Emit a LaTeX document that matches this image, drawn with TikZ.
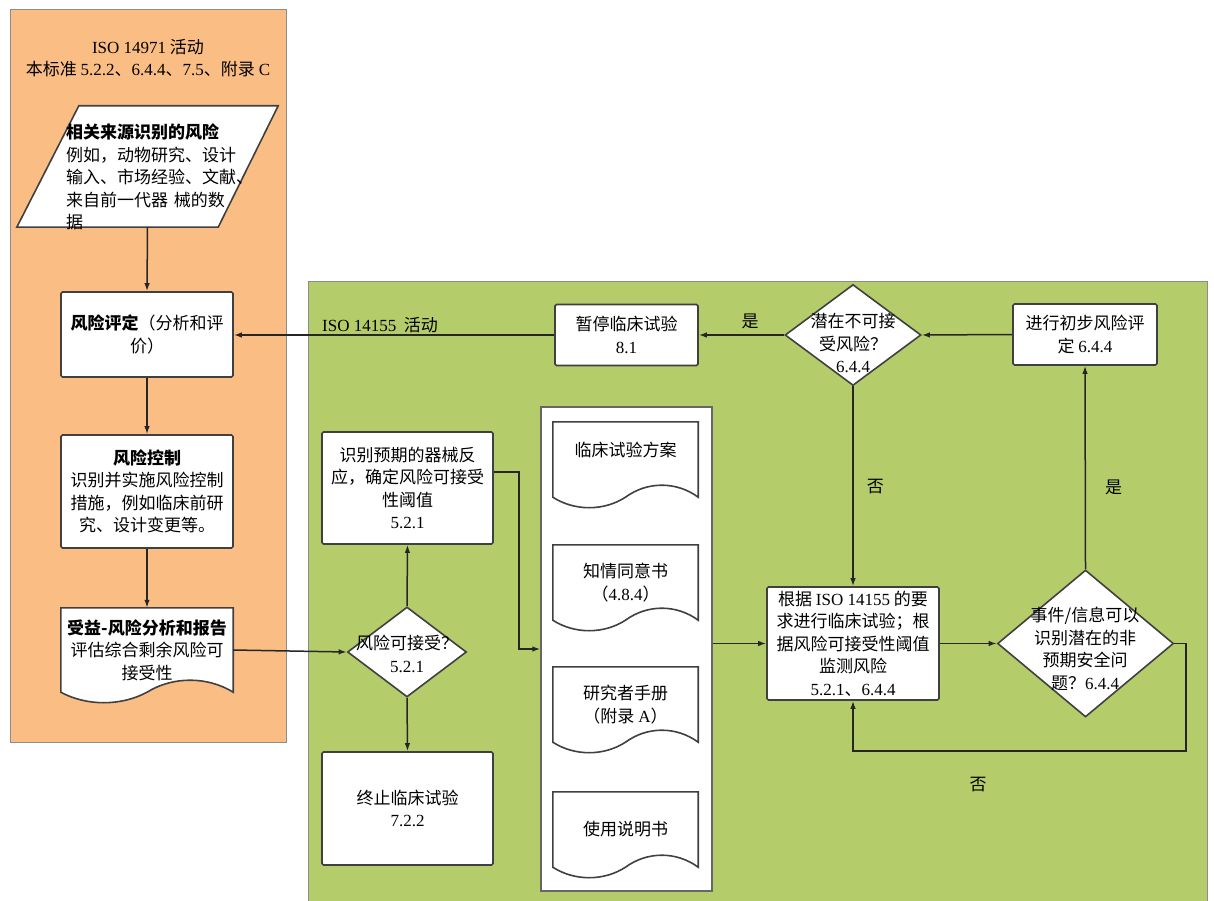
\documentclass[tikz,border=0pt]{standalone}
\usepackage{fontspec}
\setmainfont{Noto Sans CJK SC}
\newfontfamily\lat{Liberation Serif}
\usetikzlibrary{arrows.meta,calc,shapes.geometric}

\definecolor{orangebg}{RGB}{250,190,132}
\definecolor{greenbg}{RGB}{181,204,106}

\pgfdeclarelayer{back}
\pgfdeclarelayer{mid}
\pgfsetlayers{back,mid,main}

\newcommand{\nr}[1]{{\lat #1}}
% wavy-bottom outline behind a document node
\newcommand{\docframe}[2]{%
  \begin{pgfonlayer}{mid}
  \draw[boxline, fill=white] (#1.south west) -- (#1.north west) -- (#1.north east) -- (#1.south east)
    .. controls ($(#1.south east)+(-0.15*#2,-16)$) and ($(#1.south)+(0.15*#2,-16)$) .. (#1.south)
    .. controls ($(#1.south)+(-0.15*#2,14)$) and ($(#1.south west)+(0.15*#2,14)$) .. (#1.south west) -- cycle;
  \end{pgfonlayer}}

\begin{document}
\begin{tikzpicture}[x=1pt, y=-1pt,
    font=\fontsize{17pt}{22.5pt}\selectfont,
    >={Latex[length=8pt,width=5.5pt]},
    boxline/.style={draw=black!75, line width=1.6pt},
    procbox/.style={boxline, fill=white, rounded corners=1.5pt, inner sep=0pt, align=center},
    decision/.style={boxline, fill=white, shape=diamond, inner sep=0pt},
    docbox/.style={inner sep=0pt, align=center},
    flow/.style={->, draw=black!85, line width=1.5pt},
    tag/.style={inner sep=1pt}]

\useasboundingbox (0,0) rectangle (1214,901);

% regions
\begin{pgfonlayer}{back}
  \path[fill=orangebg, draw=black!45, line width=1pt] (10,10) rectangle (286,742);
  \path[fill=greenbg, draw=black!45, line width=1pt] (308,281) rectangle (1207,915);
  \node[draw=black!60, line width=1.2pt, fill=white, minimum width=171pt, minimum height=484pt, inner sep=0pt] (docs) at (626.5,649) {};
\end{pgfonlayer}

% ISO 14971 side
\node[align=center, inner sep=0pt] (head) at (148,58) {\nr{ISO 14971} 活动\\本标准 \nr{5.2.2}、\nr{6.4.4}、\nr{7.5}、附录 \nr{C}};

\node[minimum width=261pt, minimum height=121pt, inner sep=0pt] (src) at (147.5,166.5) {};
\draw[boxline, fill=white] ($(src.north west)+(62,0)$) -- (src.north east) -- ($(src.south east)+(-60,0)$) -- (src.south west) -- cycle;
\node[anchor=west, align=left, text width=190pt, inner sep=0pt] (srctext) at (66,177) {\textbf{相关来源识别的风险}\\例如，动物研究、设计\\输入、市场经验、文献、\\来自前一代器 械的数\\据};

\node[procbox, minimum width=172pt, minimum height=85pt] (assess) at (147,334.5) {\textbf{风险评定}（分析和评\\价）};
\node[procbox, minimum width=172pt, minimum height=113pt] (control) at (147,491.5) {\textbf{风险控制}\\识别并实施风险控制\\措施，例如临床前研\\究、设计变更等。};
\node[docbox, minimum width=172pt, minimum height=84pt] (benefit) at (147,650) {\textbf{受益-风险分析和报告}\\评估综合剩余风险可\\接受性};
\docframe{benefit}{172}

% ISO 14155 side
\node[anchor=west, inner sep=0pt] (trial) at (322,325) {\nr{ISO 14155}\ \ 活动};

\node[procbox, minimum width=143pt, minimum height=61pt] (halt) at (626.5,335) {暂停临床试验\\\nr{8.1}};
\node[decision, minimum width=136pt, minimum height=101pt] (unacc) at (853,335) {};
\node[align=center, inner sep=0pt] (unacctext) at (853,343) {潜在不可接\\受风险？\\\nr{6.4.4}};
\node[procbox, minimum width=144pt, minimum height=61pt] (prelim) at (1085,334.5) {进行初步风险评\\定 \nr{6.4.4}};

\node[procbox, minimum width=171pt, minimum height=112pt] (ident) at (407.5,488) {识别预期的器械反\\应，确定风险可接受\\性阈值\\\nr{5.2.1}};
\node[decision, minimum width=119pt, minimum height=90pt] (accept) at (407,652) {};
\node[align=center, inner sep=0pt] (accepttext) at (407,654) {风险可接受？\\\nr{5.2.1}};
\node[procbox, minimum width=171pt, minimum height=113pt] (stop) at (407.5,808.5) {终止临床试验\\\nr{7.2.2}};

\node[docbox, text depth=20pt, minimum width=145pt, minimum height=75pt] (protocol) at (625.5,459.5) {临床试验方案};
\docframe{protocol}{145}
\node[docbox, minimum width=145pt, minimum height=75pt] (consent) at (625.5,582.5) {知情同意书\\（\nr{4.8.4}）};
\docframe{consent}{145}
\node[docbox, minimum width=145pt, minimum height=75pt] (brochure) at (625.5,704.5) {研究者手册\\（附录 \nr{A}）};
\docframe{brochure}{145}
\node[docbox, minimum width=145pt, minimum height=75pt] (ifu) at (625.5,829.5) {使用说明书};
\docframe{ifu}{145}

\node[procbox, minimum width=172pt, minimum height=113pt] (plan) at (853,643.5) {根据 \nr{ISO 14155} 的要\\求进行临床试验；根\\据风险可接受性阈值\\监测风险\\\nr{5.2.1}、\nr{6.4.4}};
\node[decision, minimum width=176pt, minimum height=147pt] (signal) at (1085.5,643.5) {};
\node[align=center, inner sep=0pt] (signaltext) at (1085,649) {事件/信息可以\\识别潜在的非\\预期安全问\\题？\nr{6.4.4}};

% connectors
\draw[flow] (src.south) -- (assess.north);
\draw[flow] (assess.south) -- (control.north);
\draw[flow] (control.south) -- (benefit.north);
\draw[flow] (benefit.east) -- (accept.west);
\draw[flow] (accept.north) -- (ident.south);
\draw[flow] (accept.south) -- (stop.north);
\draw[flow] ([yshift=16pt]ident.east) -- ++(25,0) |- (docs.west);
\draw[flow] (docs.east |- plan.west) -- (plan.west);
\draw[flow] (plan.east) -- (signal.west);
\draw[flow] (signal.north) -- (prelim.south) node[tag, pos=0.4, right=18pt] {是};
\draw[flow] (prelim.west) -- (unacc.east);
\draw[flow] (unacc.west) -- (halt.east) node[tag, pos=0.4, above=4pt] {是};
\draw[flow] (halt.west) -- (halt.west -| assess.east);
\draw[flow] (unacc.south) -- (plan.north) node[tag, pos=0.5, right=12pt] {否};
\coordinate (loopend) at (1186,751);
\draw[flow] (signal.east) -| (loopend) -| (plan.south);
\node[tag] (nolabel) at (978,785) {否};
\end{tikzpicture}
\end{document}
